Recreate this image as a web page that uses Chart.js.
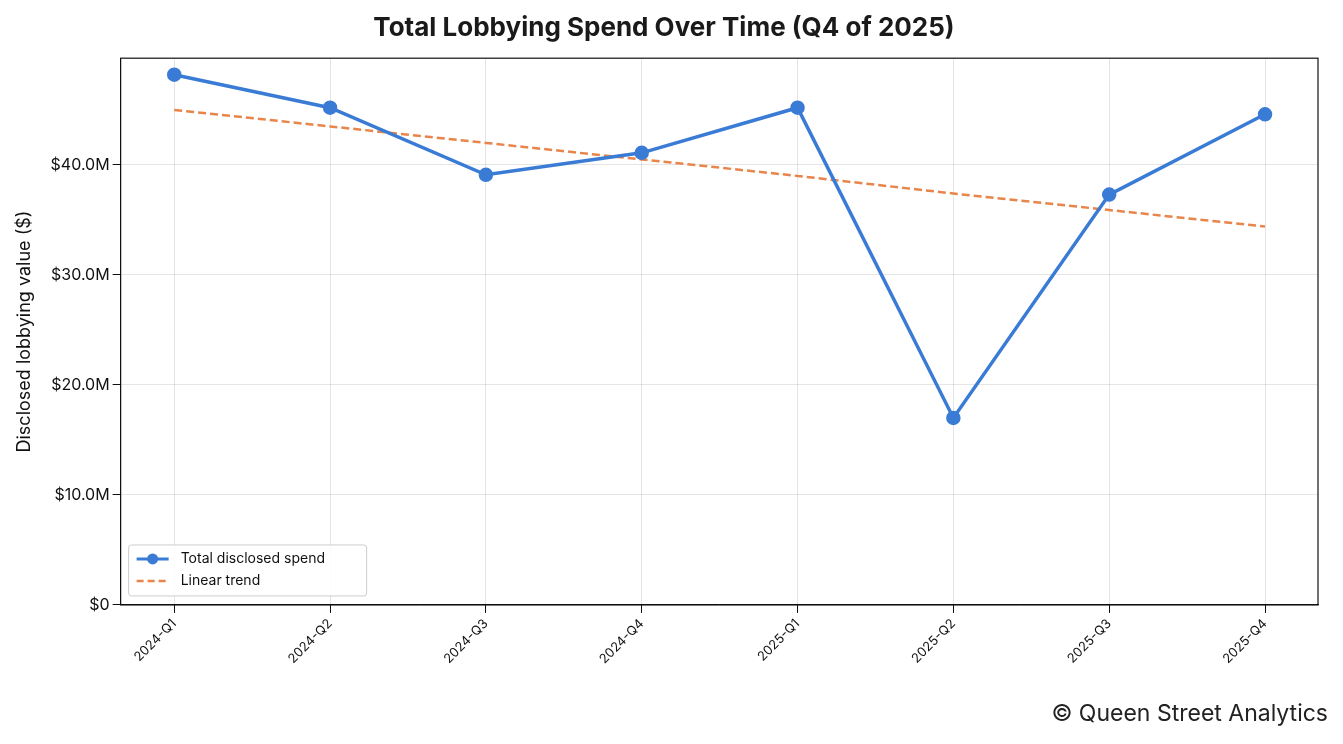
<!DOCTYPE html>
<html><head><meta charset="utf-8">
<script src="https://cdn.jsdelivr.net/npm/chart.js@4"></script>
<style>
body{margin:0;background:#fff;font-family:Inter,sans-serif}
#wrap{position:relative;width:1343px;height:744px}
#credit{position:absolute;right:15px;top:699px;font-size:23px;color:#222}
</style></head><body>
<div id="wrap"><canvas id="c" width="1343" height="744"></canvas>
<div id="credit">© Queen Street Analytics</div></div>
<script>
const quarters = ['2024-Q1','2024-Q2','2024-Q3','2024-Q4','2025-Q1','2025-Q2','2025-Q3','2025-Q4'];
const spend = [48.2, 45.2, 39.1, 41.1, 45.2, 17.0, 37.3, 44.6];
const trend = [45.0, 43.5, 42.0, 40.5, 39.0, 37.4, 35.9, 34.4];
const yTicks = [0, 10, 20, 30, 40];

const pts = arr => arr.map((v, i) => ({x: i, y: v}));

const legendBox = {
  id: 'legendBox',
  afterDraw(chart) {
    const ctx = chart.ctx, a = chart.chartArea;
    const x = a.left + 8, y = a.bottom - 60, w = 238, h = 51;
    ctx.save();
    ctx.fillStyle = 'rgba(255,255,255,0.85)';
    ctx.strokeStyle = '#ccc'; ctx.lineWidth = 1;
    ctx.beginPath(); ctx.roundRect(x, y, w, h, 3); ctx.fill(); ctx.stroke();
    ctx.font = '14px Inter'; ctx.fillStyle = '#111'; ctx.textBaseline = 'middle';
    ctx.strokeStyle = '#3a7bd5'; ctx.lineWidth = 3;
    ctx.beginPath(); ctx.moveTo(x + 8, y + 14); ctx.lineTo(x + 40, y + 14); ctx.stroke();
    ctx.fillStyle = '#3a7bd5'; ctx.beginPath(); ctx.arc(x + 24, y + 14, 5.5, 0, Math.PI * 2); ctx.fill();
    ctx.fillStyle = '#111'; ctx.fillText('Total disclosed spend', x + 52, y + 14);
    ctx.strokeStyle = '#e8854a'; ctx.lineWidth = 2.5; ctx.setLineDash([7, 4]);
    ctx.beginPath(); ctx.moveTo(x + 8, y + 36); ctx.lineTo(x + 40, y + 36); ctx.stroke();
    ctx.setLineDash([]);
    ctx.fillText('Linear trend', x + 52, y + 36);
    ctx.strokeStyle = '#111'; ctx.lineWidth = 1.2;
    ctx.strokeRect(a.left, a.top, a.right - a.left, a.bottom - a.top);
    ctx.restore();
  }
};

new Chart(document.getElementById('c'), {
  type: 'line',
  data: {
    datasets: [
      {label: 'Total disclosed spend', data: pts(spend), borderColor: '#3a7bd5', backgroundColor: '#3a7bd5',
       borderWidth: 3.5, pointRadius: 5.5, pointHoverRadius: 5.5, tension: 0},
      {label: 'Linear trend', data: pts(trend), borderColor: '#e8854a', borderWidth: 2.5,
       borderDash: [8, 4], pointRadius: 0, tension: 0}
    ]
  },
  options: {
    responsive: false, animation: false,
    layout: {padding: {left: 10, right: 25, top: 11, bottom: 74}},
    plugins: {
      legend: {display: false}, tooltip: {enabled: false},
      title: {display: true, text: 'Total Lobbying Spend Over Time (Q4 of 2025)', color: '#1a1a1a',
        font: {family: 'Inter', size: 26, weight: 'bold'}, padding: {top: 2, bottom: 14}}
    },
    scales: {
      x: {type: 'linear', min: -0.344, max: 7.34,
        afterBuildTicks: s => { s.ticks = quarters.map((q, i) => ({value: i})); },
        ticks: {callback: v => quarters[v], maxRotation: 45, minRotation: 45, color: '#111',
          font: {family: 'Inter', size: 13}},
        grid: {color: 'rgba(0,0,0,0.1)', tickLength: 8, tickColor: '#111'}, border: {color: '#111'}},
      y: {min: 0, max: 49.7,
        afterBuildTicks: s => { s.ticks = yTicks.map(v => ({value: v})); },
        ticks: {callback: v => v === 0 ? '$0' : '$' + v.toFixed(1) + 'M', color: '#111',
          font: {family: 'Inter', size: 16}},
        title: {display: true, text: 'Disclosed lobbying value ($)', color: '#111', font: {family: 'Inter', size: 18},
          padding: {bottom: 12}},
        grid: {color: 'rgba(0,0,0,0.1)', tickLength: 8, tickColor: '#111'}, border: {color: '#111'}}
    }
  },
  plugins: [legendBox]
});
</script></body></html>
